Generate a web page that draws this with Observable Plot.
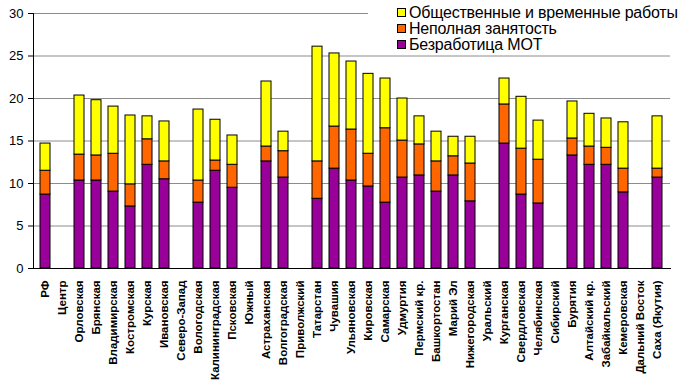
<!DOCTYPE html>
<html>
<head>
<meta charset="utf-8">
<script src="https://cdn.jsdelivr.net/npm/d3@7"></script>
<script src="https://cdn.jsdelivr.net/npm/@observablehq/plot@0.6"></script>
<style>
  html, body { margin: 0; padding: 0; background: #fff; }
  #wrap { position: relative; width: 688px; height: 392px; font-family: Arial, "Liberation Sans", sans-serif; }
  #legend { position: absolute; left: 368px; top: 3px; width: 316px; height: 48px; background: #fff; }
  .item { position: absolute; left: 29px; height: 16px; line-height: 16px; font-size: 16px; color: #000; white-space: nowrap; letter-spacing: -0.2px; }
  .sw { display: inline-block; width: 7px; height: 7px; border: 1px solid #000; margin-right: 3px; vertical-align: 1px; }
</style>
</head>
<body>
<div id="wrap"></div>
<script>
const regions = ["РФ","Центр","Орловская","Брянская","Владимирская","Костромская","Курская","Ивановская","Северо-Запад","Вологодская","Калининградская","Псковская","Южный","Астраханская","Волгоградская","Приволжский","Татарстан","Чувашия","Ульяновская","Кировская","Самарская","Удмуртия","Пермский кр.","Башкортостан","Марий Эл","Нижегородская","Уральский","Курганская","Свердловская","Челябинская","Сибирский","Бурятия","Алтайский кр.","Забайкальский","Кемеровская","Дальний Восток","Саха (Якутия)"];

const seriesNames = ["Безработица МОТ","Неполная занятость","Общественные и временные работы"];
const seriesColors = ["#990099","#FF6600","#FFFF00"];

const unemployment = [8.7,null,10.35,10.35,9.05,7.3,12.2,10.5,null,7.75,11.5,9.5,null,12.6,10.7,null,8.2,11.75,10.35,9.65,7.75,10.7,10.95,9.05,10.95,7.9,null,14.7,8.7,7.65,null,13.3,12.2,12.2,8.95,null,10.7];
const partTime = [2.8,null,3.05,2.95,4.45,2.6,3.0,2.1,null,2.6,1.2,2.7,null,1.75,3.1,null,4.4,4.95,6.0,3.85,8.75,4.35,3.65,3.55,2.25,4.45,null,4.6,5.4,5.15,null,2.0,2.15,2.0,2.8,null,1.05];
const publicWorks = [3.2,null,6.95,6.5,5.55,8.1,2.7,4.7,null,8.35,4.8,3.45,null,7.65,2.3,null,13.5,8.6,8.0,9.4,5.85,4.95,3.3,3.5,2.3,3.15,null,3.05,6.1,4.6,null,4.35,3.85,3.45,5.45,null,6.15];

const yTicks = [0,5,10,15,20,25,30];

const seriesValues = [unemployment, partTime, publicWorks];
const rows = [];
seriesValues.forEach((vals, s) => {
  regions.forEach((r, i) => {
    if (vals[i] != null) rows.push({region: r, series: seriesNames[s], value: vals[i]});
  });
});

const chart = Plot.plot({
  width: 688,
  height: 392,
  marginLeft: 33,
  marginRight: 18,
  marginTop: 13,
  marginBottom: 124,
  style: {fontFamily: "Arial, 'Liberation Sans', sans-serif", background: "#fff", color: "#000"},
  x: {domain: regions, padding: 0.4, align: 0.5, label: null},
  y: {domain: [0, 30], label: null},
  color: {domain: seriesNames, range: seriesColors},
  marks: [
    Plot.ruleY(yTicks.filter(d => d > 0), {stroke: "#8c8c8c", strokeWidth: 1}),
    Plot.barY(rows, Plot.stackY({order: seriesNames}, {x: "region", y: "value", fill: "series", stroke: "#000", strokeWidth: 1})),
    Plot.axisY({ticks: yTicks, tickSize: 5, tickPadding: 5, fontSize: 13, label: null}),
    Plot.axisX({tickSize: 0, tickPadding: 12, tickRotate: -90, fontSize: 11.5, fontWeight: "bold", label: null}),
    Plot.frame({anchor: "left", stroke: "#000"}),
    Plot.frame({anchor: "bottom", stroke: "#000"})
  ]
});

const wrap = document.getElementById("wrap");
wrap.appendChild(chart);

const legend = document.createElement("div");
legend.id = "legend";
const legendOrder = [2, 1, 0];
legendOrder.forEach((s, k) => {
  const it = document.createElement("div");
  it.className = "item";
  it.style.top = (k * 16 + 2) + "px";
  const sw = document.createElement("span");
  sw.className = "sw";
  sw.style.background = seriesColors[s];
  it.appendChild(sw);
  it.appendChild(document.createTextNode(seriesNames[s]));
  legend.appendChild(it);
});
wrap.appendChild(legend);
</script>
</body>
</html>
